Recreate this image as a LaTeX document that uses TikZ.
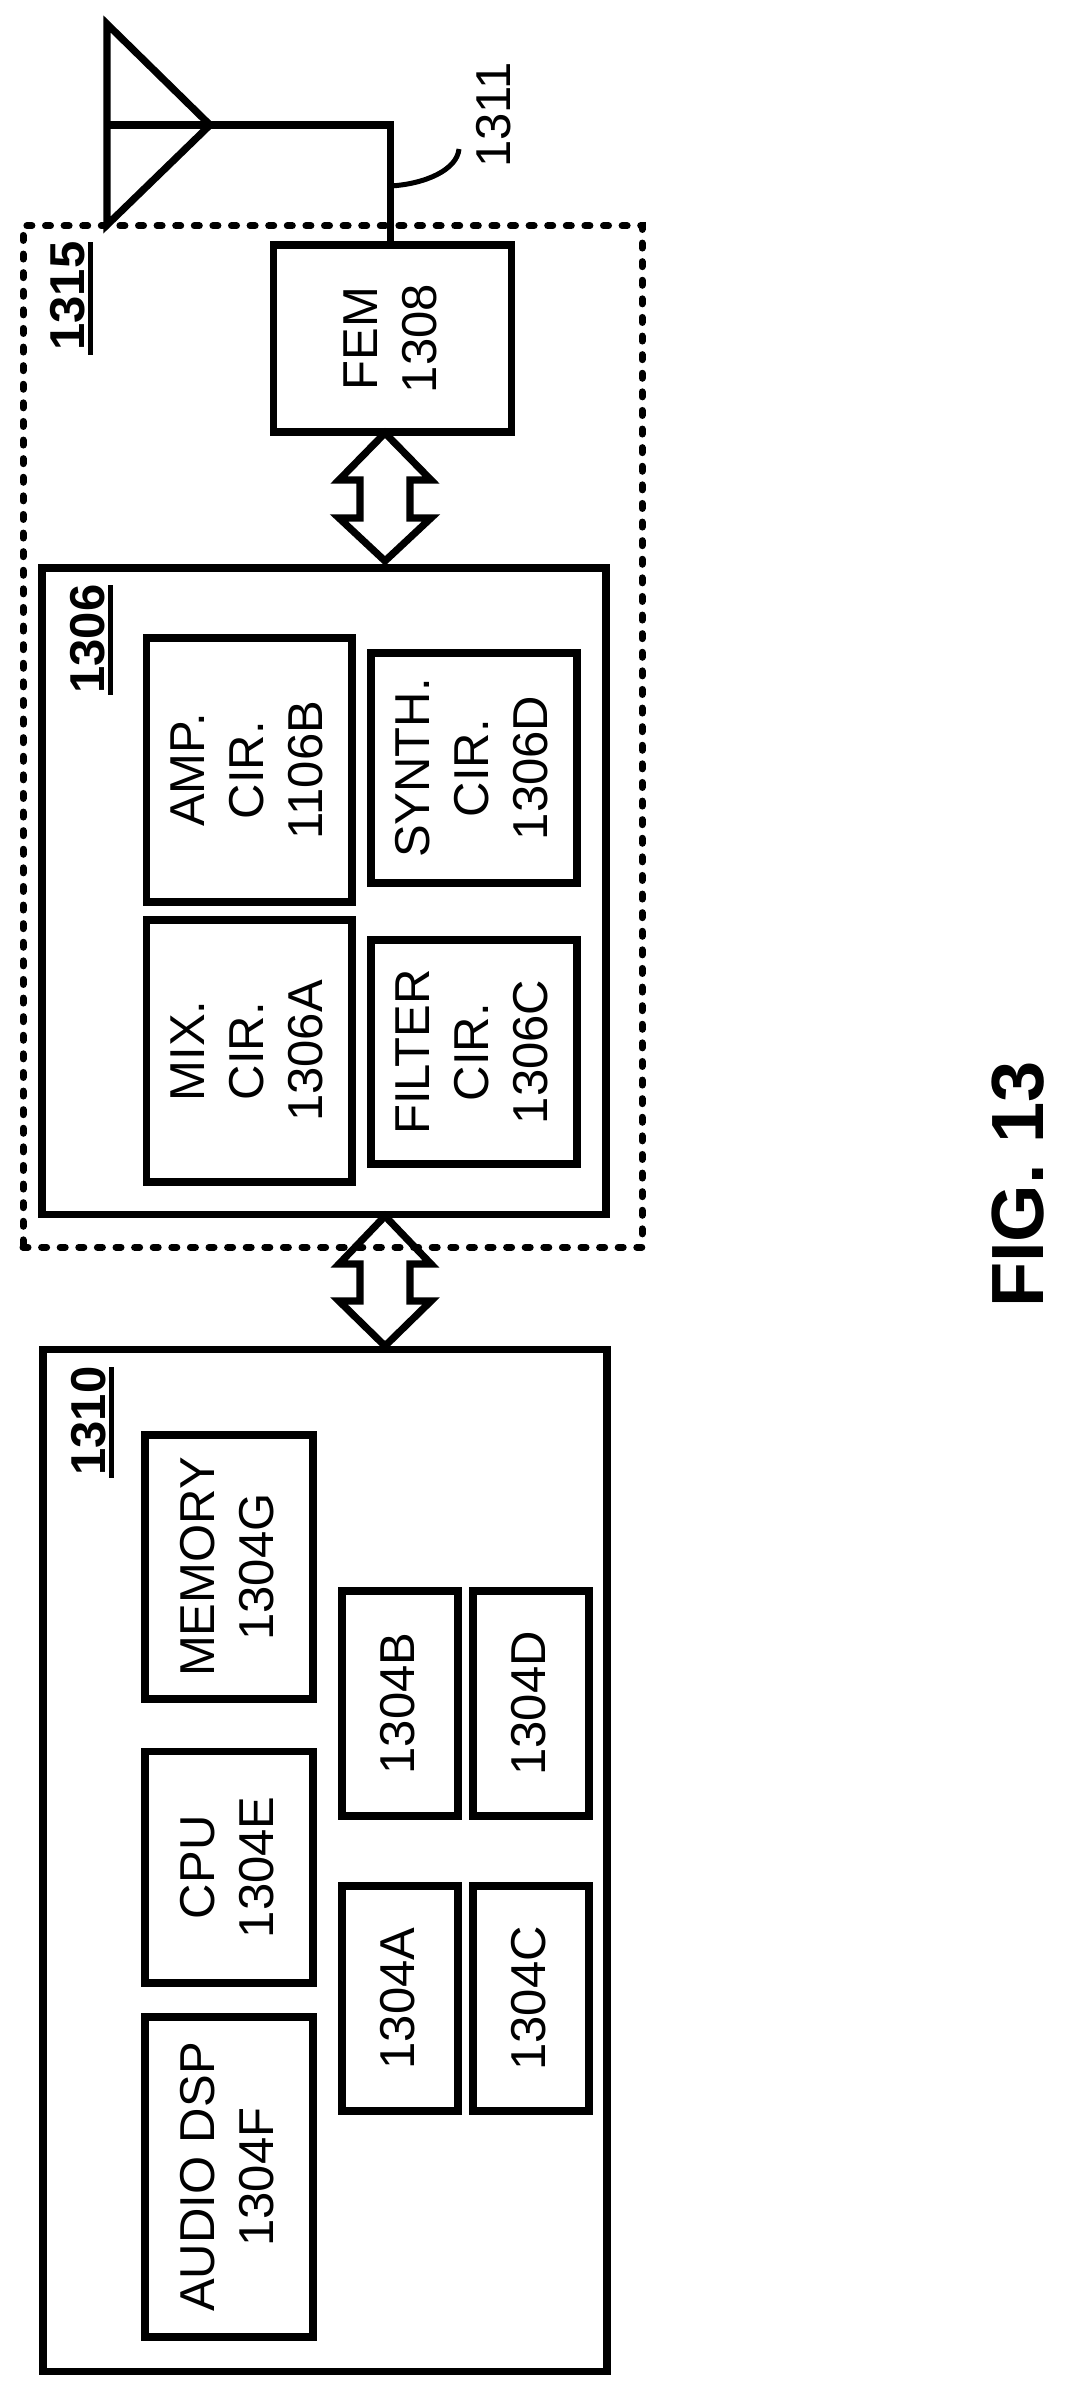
\documentclass[tikz,border=0pt]{standalone}
\usepackage{fontspec}
\usepackage{graphicx}
\usetikzlibrary{calc}
\setmainfont{Liberation Sans}
\newsavebox{\rtbox}
\newcommand{\rt}[1]{\rotatebox{90}{\sbox{\rtbox}{\begin{tabular}{@{}c@{}}#1\end{tabular}}\raisebox{\dimexpr(\dp\rtbox-\ht\rtbox)/2-2.7pt\relax}[0pt][0pt]{\makebox[0pt]{\usebox{\rtbox}}}}}
\tikzset{
  lw/.style={line width=7.2pt},
  box/.style={draw,lw,inner sep=0pt,outer sep=0pt,font=\fontsize{49}{59}\selectfont},
  lbl/.style={inner sep=0pt,outer sep=0pt,font=\fontsize{49}{59}\selectfont},
  blbl/.style={inner sep=0pt,outer sep=0pt,font=\fontsize{49}{59}\selectfont\bfseries},
  dashbox/.style={draw,line width=7pt,line cap=round,dash pattern=on 5pt off 13.6pt,inner sep=0pt,outer sep=0pt},
  wire/.style={lw,line join=miter,miter limit=10},
  barrow/.style={lw,line join=miter,miter limit=10}
}
\begin{document}
\begin{tikzpicture}[x=1pt,y=-1pt]
\useasboundingbox (0,0) rectangle (1065,2395);
% dotted module
\node[dashbox,minimum width=619pt,minimum height=1021.5pt] (m1315) at (332.5,736.5) {};
\node[blbl] (t1315) at (69.5,296) {\rt{1315}};
\draw[line width=5pt] (90,242) -- (90,355);
% FEM
\node[box,minimum width=238pt,minimum height=187pt] (fem) at (392.5,338.5) {\rt{FEM\\1308}};
% antenna
\coordinate (anttop) at (107,24);
\coordinate (antbot) at (107,225);
\coordinate (antapex) at (210,125);
\coordinate (antmid) at (107,125);
\coordinate (bend) at (390.5,125);
\draw[wire] (anttop) -- (antbot) -- (antapex) -- cycle;
\draw[wire] (antmid) -- (bend) -- (bend |- fem.north);
\coordinate (tickstart) at (390.5,186);
\coordinate (tickend) at (459,149);
\draw[line width=5pt] (tickstart) .. controls (425,184) and (457,170) .. (tickend);
\node[lbl] (t1311) at (496,115) {\rt{1311}};
% 1306
\node[box,minimum width=564pt,minimum height=646.5pt] (rf) at (324,891.25) {};
\node[blbl] (t1306) at (90,639) {\rt{1306}};
\draw[line width=5pt] (110,585) -- (110,695);
\node[box,minimum width=205.5pt,minimum height=264pt] (amp) at (249.25,770) {\rt{AMP.\\CIR.\\1106B}};
\node[box,minimum width=205.5pt,minimum height=262pt] (mix) at (249.25,1051) {\rt{MIX.\\CIR.\\1306A}};
\node[box,minimum width=206pt,minimum height=230pt] (syn) at (474,768) {\rt{SYNTH.\\CIR.\\1306D}};
\node[box,minimum width=206pt,minimum height=224pt] (fil) at (474,1052) {\rt{FILTER\\CIR.\\1306C}};
% 1310
\node[box,minimum width=564pt,minimum height=1022pt] (bb) at (325,1860.5) {};
\node[blbl] (t1310) at (91,1421) {\rt{1310}};
\draw[line width=5pt] (111,1367) -- (111,1478);
\node[box,minimum width=168pt,minimum height=264pt] (mem) at (229,1567) {\rt{MEMORY\\1304G}};
\node[box,minimum width=168pt,minimum height=231.5pt] (cpu) at (229,1867.25) {\rt{CPU\\1304E}};
\node[box,minimum width=168pt,minimum height=320pt] (dsp) at (229,2177) {\rt{AUDIO DSP\\1304F}};
\node[box,minimum width=116pt,minimum height=225pt] (b) at (400,1703.5) {\rt{1304B}};
\node[box,minimum width=116pt,minimum height=225pt] (a) at (400,1998.5) {\rt{1304A}};
\node[box,minimum width=116pt,minimum height=225pt] (d) at (531,1703.5) {\rt{1304D}};
\node[box,minimum width=116pt,minimum height=225pt] (c) at (531,1998.5) {\rt{1304C}};
% bidirectional arrows
\coordinate (atop) at (385,433);
\coordinate (abot) at (385,561);
\draw[barrow] (atop) -- ($(atop)+(46,47)$) -- ($(atop)+(25,47)$) -- ($(abot)+(25,-43)$) -- ($(abot)+(46,-43)$) -- (abot) -- ($(abot)+(-46,-43)$) -- ($(abot)+(-25,-43)$) -- ($(atop)+(-25,47)$) -- ($(atop)+(-46,47)$) -- cycle;
\coordinate (btop) at (385,1216);
\coordinate (bbot) at (385,1346);
\draw[barrow] (btop) -- ($(btop)+(46,48)$) -- ($(btop)+(25,48)$) -- ($(bbot)+(25,-45)$) -- ($(bbot)+(46,-45)$) -- (bbot) -- ($(bbot)+(-46,-45)$) -- ($(bbot)+(-25,-45)$) -- ($(btop)+(-25,48)$) -- ($(btop)+(-46,48)$) -- cycle;
% figure label
\node[inner sep=0pt,outer sep=0pt,font=\fontsize{74}{88}\selectfont\bfseries] (fig) at (1023.5,1184.5) {\rt{FIG. 13}};
\end{tikzpicture}
\end{document}
